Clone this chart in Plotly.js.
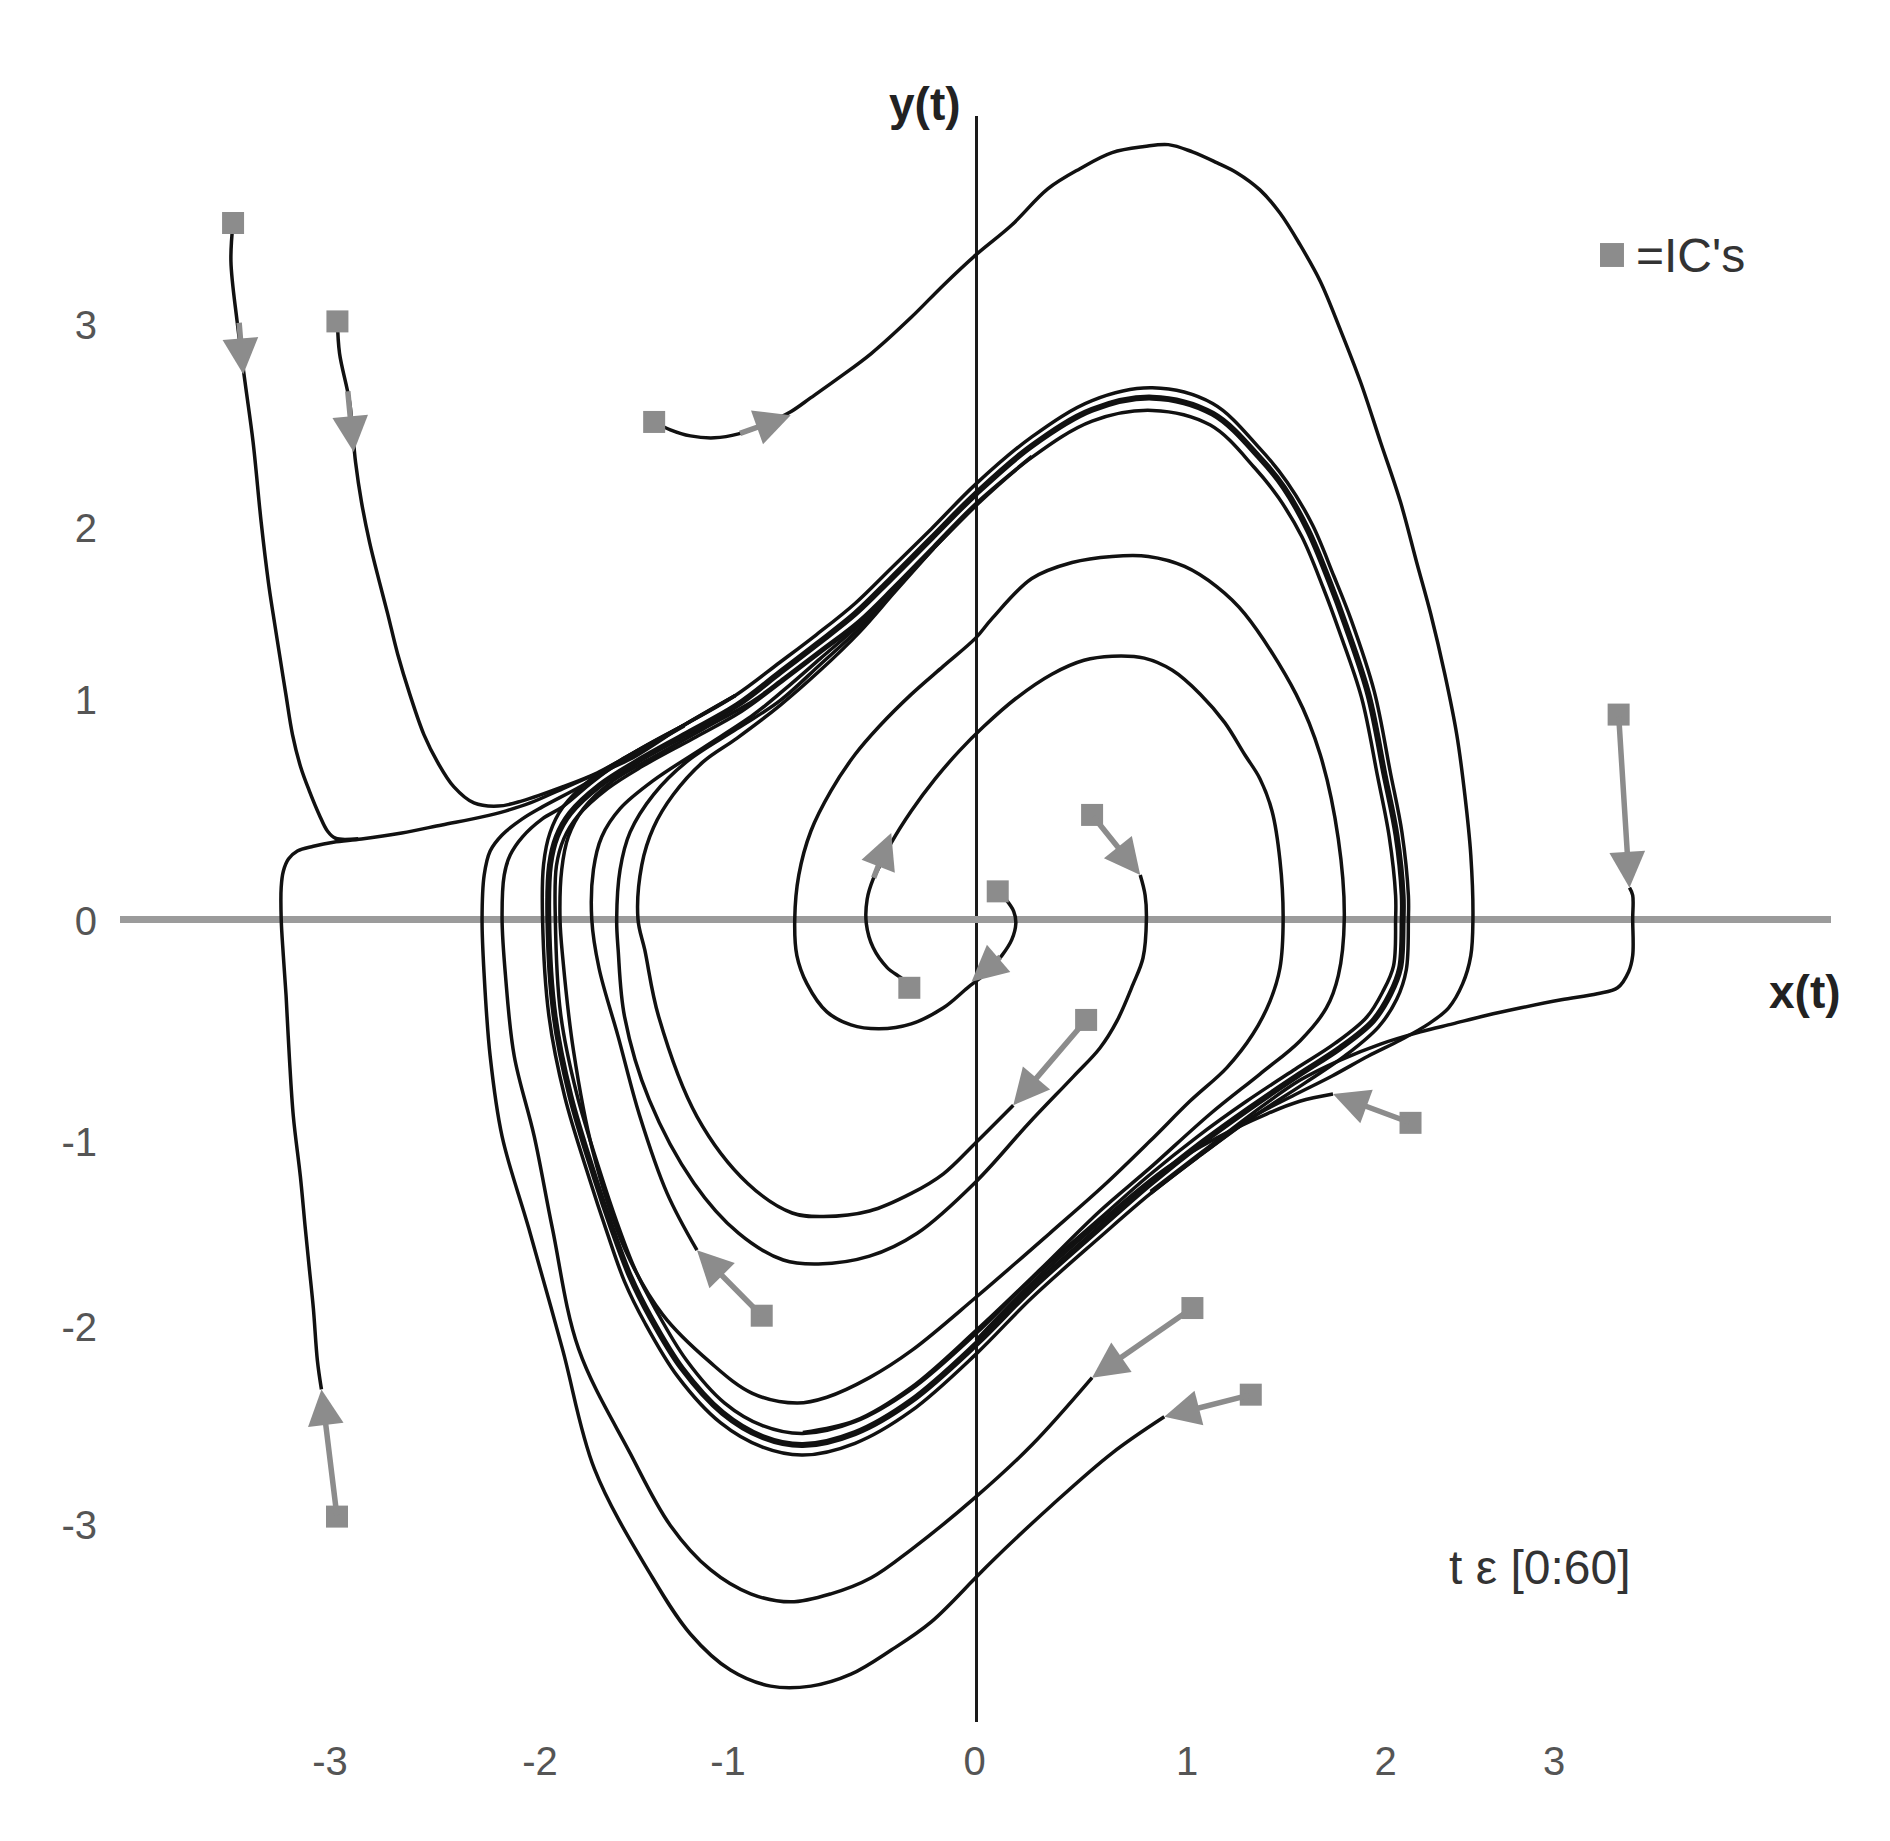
<!DOCTYPE html>
<html>
<head>
<meta charset="utf-8">
<script src="https://cdn.plot.ly/plotly-3.0.1.min.js"></script>
<style>html,body{margin:0;padding:0;background:#fff;}#chart{width:1890px;height:1841px;}</style>
</head>
<body>
<div id="chart"></div>
<script>
// ---- limit cycle and the bundle of curves that has merged into it ----
const lcX = [-2.008,-2.0,-1.968,-1.906,-1.765,-1.593,-1.358,-1.123,-0.92,-0.75,-0.568,-0.398,-0.21,0.0,0.262,0.545,0.828,1.111,1.333,1.446,1.559,1.66,1.735,1.842,1.918,1.974,2.003,2.003,1.991,1.944,1.864,1.709,1.521,1.286,1.052,0.817,0.582,0.262,0.0,-0.304,-0.568,-0.813,-1.002,-1.19,-1.379,-1.53,-1.624,-1.71,-1.791,-1.904,-1.979,-2.008];
const lcY = [0,0.276,0.42,0.539,0.683,0.803,0.946,1.09,1.258,1.40,1.557,1.737,1.942,2.17,2.414,2.598,2.66,2.578,2.352,2.20,1.983,1.72,1.50,1.146,0.736,0.428,0.121,0,-0.25,-0.385,-0.52,-0.658,-0.791,-0.964,-1.148,-1.352,-1.575,-1.885,-2.17,-2.458,-2.623,-2.684,-2.643,-2.52,-2.295,-2.028,-1.823,-1.576,-1.314,-0.904,-0.492,0];
const bandOuterX = [-2.035,-2.03,-2.0,-1.94,-1.80,-1.62,-1.37,-1.13,-0.92,-0.75,-0.568,-0.398,-0.21,0.0,0.262,0.545,0.828,1.111,1.333,1.46,1.58,1.68,1.76,1.87,1.945,2.0,2.03,2.03,2.02,1.975,1.89,1.73,1.54,1.30,1.06,0.82,0.58,0.26,0.0,-0.304,-0.568,-0.813,-1.002,-1.20,-1.40,-1.555,-1.65,-1.735,-1.815,-1.93,-2.005,-2.035];
const bandOuterY = [0,0.28,0.44,0.57,0.72,0.84,0.99,1.14,1.31,1.45,1.61,1.79,1.99,2.22,2.46,2.645,2.71,2.63,2.40,2.23,2.01,1.75,1.53,1.16,0.75,0.44,0.12,0,-0.26,-0.41,-0.55,-0.70,-0.84,-1.01,-1.20,-1.40,-1.625,-1.935,-2.22,-2.51,-2.675,-2.735,-2.695,-2.57,-2.335,-2.06,-1.85,-1.59,-1.325,-0.91,-0.495,0];
const bandInnerX = [-1.975,-1.97,-1.935,-1.87,-1.73,-1.565,-1.33,-1.10,-0.90,-0.73,-0.55,-0.38,-0.20,0.0,0.262,0.545,0.828,1.10,1.31,1.42,1.53,1.63,1.705,1.81,1.885,1.94,1.97,1.97,1.96,1.91,1.835,1.685,1.50,1.27,1.04,0.81,0.58,0.262,0.0,-0.304,-0.568,-0.813,-1.002,-1.18,-1.36,-1.505,-1.60,-1.685,-1.765,-1.875,-1.95,-1.975];
const bandInnerY = [0,0.27,0.41,0.525,0.665,0.78,0.92,1.06,1.22,1.36,1.51,1.69,1.89,2.11,2.355,2.54,2.595,2.52,2.30,2.15,1.95,1.69,1.47,1.13,0.73,0.42,0.12,0,-0.24,-0.37,-0.50,-0.635,-0.765,-0.93,-1.11,-1.31,-1.53,-1.835,-2.115,-2.40,-2.565,-2.625,-2.585,-2.47,-2.25,-1.99,-1.79,-1.55,-1.29,-0.89,-0.485,0];

// ---- inner spirals (start inside the cycle) ----
const s1X = [-0.313,-0.342,-0.417,-0.483,-0.515,-0.511,-0.483,-0.445,-0.398,-0.304,-0.191,-0.077,0.036,0.187,0.356,0.507,0.639,0.790,0.922,1.054,1.167,1.262,1.333,1.39,1.427,1.442,1.427,1.38,1.30,1.178,1.005,0.817,0.60,0.35,0.0,-0.30,-0.50,-0.70,-0.84,-1.05,-1.25,-1.47,-1.65,-1.80,-1.89,-1.94,-1.953,-1.945,-1.914,-1.843,-1.702,-1.514,-1.28,-1.045,-0.90,-0.73,-0.55,-0.38,-0.20,0.0,0.262];
const s1Y = [-0.351,-0.310,-0.248,-0.146,-0.023,0.101,0.203,0.285,0.388,0.551,0.716,0.859,0.982,1.125,1.249,1.320,1.341,1.331,1.269,1.146,1.003,0.838,0.716,0.55,0.30,0.0,-0.25,-0.42,-0.587,-0.758,-0.929,-1.133,-1.36,-1.60,-1.93,-2.20,-2.34,-2.44,-2.47,-2.42,-2.26,-2.02,-1.68,-1.18,-0.67,-0.20,0.0,0.252,0.42,0.563,0.707,0.826,0.97,1.114,1.23,1.37,1.52,1.70,1.90,2.12,2.36];
const s2X = [0.102,0.139,0.177,0.187,0.168,0.121,0.055,-0.040,-0.153,-0.304,-0.455,-0.587,-0.700,-0.794,-0.841,-0.851,-0.832,-0.775,-0.681,-0.568,-0.455,-0.304,-0.153,-0.002,0.073,0.262,0.451,0.639,0.809,0.979,1.130,1.262,1.503,1.616,1.701,1.729,1.701,1.645,1.521,1.333,1.099,0.817,0.582,0.30,0.0,-0.304,-0.568,-0.813];
const s2Y = [0.141,0.101,0.039,-0.023,-0.105,-0.187,-0.269,-0.351,-0.453,-0.535,-0.56,-0.54,-0.474,-0.330,-0.187,0.0,0.224,0.449,0.654,0.839,0.982,1.146,1.290,1.433,1.53,1.737,1.819,1.850,1.850,1.799,1.696,1.557,1.146,0.839,0.408,0.0,-0.289,-0.454,-0.622,-0.791,-0.995,-1.27,-1.49,-1.79,-2.10,-2.39,-2.56,-2.62];
const s3X = [0.771,0.794,0.800,0.784,0.737,0.662,0.582,0.457,0.248,0.0,-0.276,-0.50,-0.74,-0.905,-1.115,-1.324,-1.534,-1.65,-1.68,-1.687,-1.671,-1.624,-1.514,-1.358,-1.123,-0.920,-0.73,-0.55,-0.38,-0.20,0.0];
const s3Y = [0.224,0.121,0.0,-0.199,-0.334,-0.52,-0.658,-0.804,-1.042,-1.34,-1.603,-1.72,-1.76,-1.74,-1.603,-1.348,-0.923,-0.498,-0.158,0.0,0.252,0.443,0.635,0.803,0.97,1.114,1.30,1.48,1.68,1.89,2.11];
const s4X = [0.175,0.0,-0.153,-0.304,-0.50,-0.716,-0.863,-1.073,-1.31,-1.49,-1.555,-1.587,-1.569,-1.514,-1.421,-1.280,-1.123,-0.920,-0.73,-0.55,-0.38,-0.20];
const s4Y = [-0.95,-1.14,-1.30,-1.40,-1.49,-1.518,-1.50,-1.348,-1.008,-0.498,-0.158,0.0,0.276,0.467,0.635,0.803,0.922,1.09,1.27,1.46,1.67,1.89];
const s5X = [-1.31,-1.45,-1.58,-1.68,-1.77,-1.804,-1.796,-1.757,-1.671,-1.514,-1.280,-1.045,-0.90,-0.73,-0.55,-0.38,-0.20];
const s5Y = [-1.69,-1.40,-1.00,-0.60,-0.25,0.0,0.252,0.42,0.563,0.707,0.874,1.042,1.17,1.33,1.50,1.69,1.89];

// ---- outer trajectories (start outside the cycle) ----
const t1X = [-3.488,-3.498,-3.469,-3.432,-3.394,-3.356,-3.322,-3.300,-3.270,-3.240,-3.209,-3.171,-3.130,-3.083,-3.045,-3.007,-2.90];
const t1Y = [3.551,3.356,3.049,2.741,2.434,2.024,1.717,1.557,1.351,1.146,0.941,0.777,0.654,0.531,0.449,0.412,0.41];
const t2X = [-2.998,-2.988,-2.941,-2.913,-2.885,-2.847,-2.800,-2.762,-2.715,-2.658,-2.592,-2.526,-2.451,-2.357,-2.243,-2.130,-1.942,-1.78,-1.62,-1.37,-1.13];
const t2Y = [3.049,2.885,2.639,2.332,2.127,1.922,1.716,1.557,1.351,1.146,0.941,0.797,0.674,0.592,0.576,0.603,0.674,0.745,0.84,0.99,1.14];
const t3X = [-3.073,-3.092,-3.111,-3.130,-3.149,-3.172,-3.205,-3.224,-3.239,-3.252,-3.262,-3.262,-3.252,-3.228,-3.186,-3.111,-3.017,-2.885,-2.696,-2.507,-2.319,-2.206,-2.093,-1.942,-1.791,-1.625,-1.37,-1.13];
const t3Y = [-2.40,-2.254,-1.987,-1.782,-1.577,-1.314,-1.007,-0.699,-0.392,-0.187,0.0,0.162,0.244,0.306,0.347,0.371,0.392,0.408,0.439,0.480,0.521,0.552,0.592,0.664,0.736,0.815,0.99,1.14];
const t4X = [-1.511,-1.435,-1.341,-1.228,-1.115,-0.98,-0.870,-0.775,-0.643,-0.492,-0.304,-0.153,-0.002,0.168,0.337,0.488,0.639,0.790,0.903,1.016,1.130,1.224,1.333,1.427,1.522,1.616,1.710,1.805,1.899,1.993,2.069,2.135,2.201,2.257,2.295,2.323,2.333,2.323,2.285,2.219,2.125,1.993,1.842,1.672,1.484,1.30,1.06,0.82];
const t4Y = [2.536,2.496,2.465,2.455,2.475,2.53,2.588,2.660,2.762,2.885,3.070,3.234,3.387,3.541,3.725,3.828,3.910,3.941,3.951,3.914,3.859,3.808,3.72,3.602,3.439,3.254,3.008,2.741,2.434,2.127,1.819,1.556,1.249,0.941,0.634,0.326,0.0,-0.187,-0.330,-0.453,-0.535,-0.617,-0.699,-0.801,-0.904,-1.01,-1.20,-1.40];
const t5X = [3.068,3.083,3.083,3.083,3.064,3.012,2.917,2.748,2.559,2.389,2.238,2.087,1.899,1.710,1.522,1.30,1.06,0.82];
const t5Y = [0.16,0.121,0.0,-0.187,-0.269,-0.351,-0.381,-0.412,-0.453,-0.494,-0.535,-0.576,-0.638,-0.720,-0.822,-0.99,-1.19,-1.39];
const t6X = [1.676,1.52,1.364,1.129,0.895,0.60,0.26,0.0];
const t6Y = [-0.893,-0.93,-0.995,-1.117,-1.27,-1.53,-1.86,-2.15];
const dX = [0.545,0.262,-0.002,-0.304,-0.492,-0.681,-0.870,-1.058,-1.247,-1.435,-1.624,-1.866,-1.989,-2.074,-2.168,-2.209,-2.225,-2.215,-2.187,-2.130,-2.036,-1.942,-1.80,-1.62,-1.37];
const dY = [-2.34,-2.684,-2.950,-3.217,-3.361,-3.443,-3.484,-3.443,-3.320,-3.094,-2.725,-2.192,-1.577,-1.109,-0.699,-0.289,0.0,0.224,0.326,0.418,0.511,0.572,0.70,0.84,0.99];
const eX = [0.884,0.639,0.356,0.073,-0.002,-0.210,-0.398,-0.587,-0.775,-0.964,-1.153,-1.341,-1.530,-1.791,-1.942,-2.100,-2.225,-2.281,-2.309,-2.319,-2.309,-2.281,-2.225,-2.130,-2.036,-1.85,-1.62,-1.37];
const eY = [-2.54,-2.725,-2.991,-3.279,-3.361,-3.586,-3.730,-3.853,-3.914,-3.914,-3.832,-3.648,-3.340,-2.807,-2.192,-1.577,-1.109,-0.699,-0.289,0.0,0.224,0.347,0.429,0.511,0.572,0.68,0.83,0.985];

// ---- initial conditions and direction arrows ----
const icX = [-3.488,-2.998,-3.0,-1.511,3.017,2.04,1.016,1.29,-0.313,0.102,0.545,0.517,-1.006];
const icY = [3.551,3.049,-3.049,2.536,1.043,-1.04,-1.985,-2.427,-0.351,0.141,0.531,-0.515,-2.024];
const arrowTipX = [-3.44,-2.922,-3.073,-0.87,3.068,1.676,0.545,0.884,-0.398,-0.021,0.771,0.175,-1.31];
const arrowTipY = [2.78,2.383,-2.40,2.57,0.16,-0.893,-2.34,-2.54,0.439,-0.320,0.224,-0.95,-1.69];
const arrowTailX = [-3.46,-2.95,-3.0,-1.115,3.017,2.04,1.016,1.29,-0.483,0.121,0.545,0.517,-1.006];
const arrowTailY = [3.05,2.70,-3.049,2.475,1.043,-1.04,-1.985,-2.427,0.203,-0.187,0.531,-0.515,-2.024];

// ---- axis tick labels ----
const xTickVals = [-3.033,-2.047,-1.164,-0.007,0.991,1.923,2.714];
const xTickText = ['-3','-2','-1','0','1','2','3'];
const yTickVals = [3.03,1.995,1.117,-0.01,-1.138,-2.082,-3.092];
const yTickText = ['3','2','1','0','-1','-2','-3'];

const INK = '#111111';
const GREY = '#8c8c8c';
const FONT = 'Liberation Sans, Arial, Helvetica, sans-serif';

function curve(x, y, w) {
  return {x: x, y: y, type: 'scatter', mode: 'lines', hoverinfo: 'skip',
          line: {color: INK, width: w, shape: 'spline', smoothing: 1.0}};
}

const traces = [
  curve(bandOuterX, bandOuterY, 3.5),
  curve(bandInnerX, bandInnerY, 3.5),
  curve(lcX, lcY, 6),
  curve(s1X, s1Y, 3.5), curve(s2X, s2Y, 3.5), curve(s3X, s3Y, 3.5),
  curve(s4X, s4Y, 3.5), curve(s5X, s5Y, 3.5),
  curve(t1X, t1Y, 3.5), curve(t2X, t2Y, 3.5), curve(t3X, t3Y, 3.5),
  curve(t4X, t4Y, 3.5), curve(t5X, t5Y, 3.5), curve(t6X, t6Y, 3.5),
  curve(dX, dY, 3.5), curve(eX, eY, 3.5),
  {x: icX, y: icY, type: 'scatter', mode: 'markers', hoverinfo: 'skip',
   marker: {symbol: 'square', size: 22, color: GREY, line: {width: 0}}}
];

const annotations = arrowTipX.map((tx, i) => ({
  x: tx, y: arrowTipY[i], ax: arrowTailX[i], ay: arrowTailY[i],
  xref: 'x', yref: 'y', axref: 'x', ayref: 'y',
  text: '', showarrow: true, arrowhead: 2, arrowsize: 1.3,
  arrowwidth: 5.5, arrowcolor: GREY, standoff: 0, startstandoff: 0
}));

annotations.push(
  {xref: 'paper', yref: 'paper', x: 0.4705, y: 1.0075, text: '<b>y(t)</b>', showarrow: false,
   xanchor: 'center', yanchor: 'middle', font: {family: FONT, size: 46, color: '#222'}},
  {xref: 'paper', yref: 'paper', x: 0.9848, y: 0.4545, text: '<b>x(t)</b>', showarrow: false,
   xanchor: 'center', yanchor: 'middle', font: {family: FONT, size: 46, color: '#222'}},
  {xref: 'paper', yref: 'paper', x: 0.8849, y: 0.9134, text: "=IC's", showarrow: false,
   xanchor: 'left', yanchor: 'middle', font: {family: FONT, size: 48, color: '#333'}},
  {xref: 'paper', yref: 'paper', x: 0.7756, y: 0.0965, text: 't \u03b5 [0:60]', showarrow: false,
   xanchor: 'left', yanchor: 'middle', font: {family: FONT, size: 48, color: '#333'}}
);

const layout = {
  width: 1890, height: 1841,
  margin: {l: 120, r: 59, t: 116, b: 119, pad: 0},
  paper_bgcolor: '#ffffff', plot_bgcolor: '#ffffff',
  showlegend: false,
  xaxis: {
    range: [-4.0188, 4.0141], showgrid: false, showline: false, ticks: '',
    zeroline: true, zerolinecolor: '#1a1a1a', zerolinewidth: 3,
    tickmode: 'array', tickvals: xTickVals, ticktext: xTickText,
    tickfont: {family: FONT, size: 40, color: '#555'}, ticklabelstandoff: 12
  },
  yaxis: {
    range: [-4.097, 4.097], showgrid: false, showline: false, ticks: '',
    zeroline: true, zerolinecolor: '#9b9b9b', zerolinewidth: 7,
    tickmode: 'array', tickvals: yTickVals, ticktext: yTickText,
    tickfont: {family: FONT, size: 40, color: '#555'}, ticklabelstandoff: 22
  },
  shapes: [
    {type: 'rect', xref: 'paper', yref: 'paper', x0: 0.8650, x1: 0.8790, y0: 0.9060, y1: 0.9209,
     fillcolor: GREY, line: {width: 0}}
  ],
  annotations: annotations
};

Plotly.newPlot('chart', traces, layout, {staticPlot: true, displayModeBar: false});
</script>
</body>
</html>
